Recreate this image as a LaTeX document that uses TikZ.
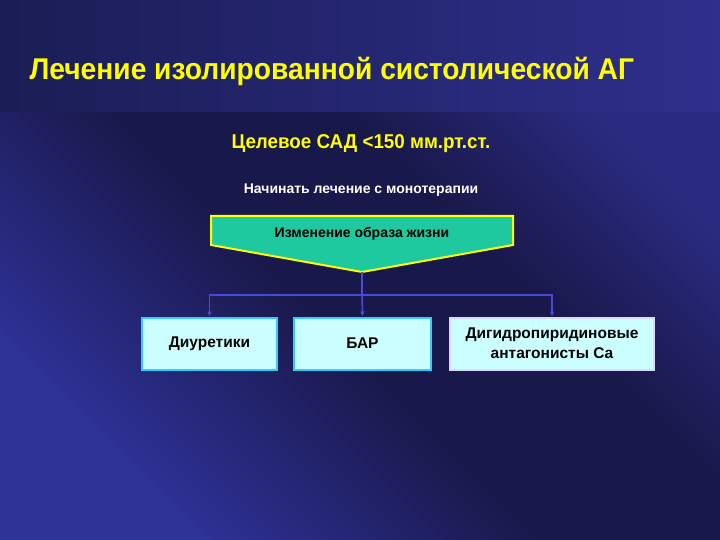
\documentclass[tikz,border=0pt]{standalone}
\usepackage{fontspec}
\setmainfont{Liberation Sans}
\newfontfamily\slimsans[FakeStretch=0.94]{Liberation Sans}
\usetikzlibrary{arrows.meta}
\definecolor{bandL}{HTML}{1B1D55}
\definecolor{bandR}{HTML}{2F2F8C}
\definecolor{bgT}{HTML}{2A2A80}
\definecolor{bgM}{HTML}{19184A}
\definecolor{bgB}{HTML}{2E3196}
\definecolor{titleY}{HTML}{FFFF00}
\definecolor{arrowG}{HTML}{1FC9A0}
\definecolor{boxC}{HTML}{CCFFFF}
\definecolor{boxB}{HTML}{33CCFF}
\definecolor{lineB}{HTML}{4A4AD8}
\pgfdeclarehorizontalshading{bgdiag}{100bp}{color(0bp)=(bgB); color(35bp)=(bgB); color(49bp)=(bgM); color(58bp)=(bgM); color(68bp)=(bgT); color(100bp)=(bgT)}

\begin{document}
\begin{tikzpicture}[x=1pt, y=-1pt,
	drug/.style={draw=boxB, line width=2pt, fill=boxC, minimum height=52pt, align=center, font=\bfseries\fontsize{15.5}{20}\selectfont},
	link/.style={lineB, line width=1.5pt, -{Latex[length=5pt,width=5pt]}}]
	\useasboundingbox (0,0) rectangle (720,540);
	\begin{scope}
		\clip (0,112) rectangle (720,540);
		\shade[shading=bgdiag, shading angle=45] (-80,-114) rectangle (800,766);
	\end{scope}
	\shade[left color=bandL, right color=bandR] (0,0) rectangle (720,112);

	\node[anchor=west, titleY, font=\slimsans\bfseries\fontsize{30}{34}\selectfont] (title) at (26,71) {Лечение изолированной систолической АГ};
	\node[titleY, font=\slimsans\bfseries\fontsize{20}{24}\selectfont] (goal) at (361,144) {Целевое САД <150 мм.рт.ст.};
	\node[white, font=\bfseries\fontsize{14}{17}\selectfont] (start) at (361,190) {Начинать лечение с монотерапии};

	\draw[titleY, line width=2pt, fill=arrowG] (211,216) -- (513,216) -- (513,245) -- (362,272) -- (211,245) -- cycle;
	\node[font=\bfseries\fontsize{14}{17}\selectfont] (life) at (362,234) {Изменение образа жизни};
	\coordinate (tip) at (362,272);
	\coordinate (bus) at (362,295);

	\node[drug, minimum width=135pt] (diu) at (209.5,343.5) {Диуретики};
	\node[drug, minimum width=137pt] (bar) at (362.5,343.5) {БАР};
	\node[drug, draw=blue!15!white, minimum width=204pt] (ca) at (552,343.5) {Дигидропиридиновые\\антагонисты Са};

	\draw[lineB, line width=1.5pt] (tip) -- (bus);
	\draw[link] (bus) -| (diu.north);
	\draw[link] (bus) -- (bar.north);
	\draw[link] (bus) -| (ca.north);
\end{tikzpicture}
\end{document}
